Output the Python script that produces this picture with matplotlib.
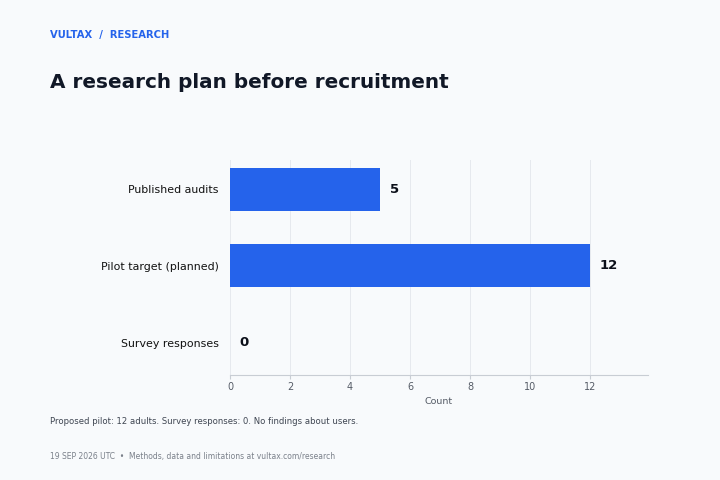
import matplotlib
matplotlib.use("Agg")
import matplotlib.pyplot as plt

categories = ["Published audits", "Pilot target (planned)", "Survey responses"]
counts = [5, 12, 0]

bg = "#f8fafc"
blue = "#2563eb"

fig = plt.figure(figsize=(7.2, 4.8), dpi=100, facecolor=bg)
ax = fig.add_axes([0.3194, 0.2188, 0.5806, 0.4479], facecolor=bg)

ypos = list(range(len(categories)))[::-1]
ax.barh(ypos, counts, height=0.56, color=blue, zorder=3)
for y, v in zip(ypos, counts):
    ax.annotate(str(v), (v, y), xytext=(7, 0), textcoords="offset points",
                va="center", ha="left", fontsize=9.5, fontweight="bold", color="#0b0f19")

ax.set_yticks(ypos)
ax.set_yticklabels(categories, fontsize=7.9, color="#111111")
ax.set_xlim(0, 13.93)
ax.set_ylim(-0.42, 2.38)
ax.set_xticks(range(0, 13, 2))
ax.tick_params(axis="x", labelsize=7, labelcolor="#555b66", color="#c8cdd4",
               length=3, width=0.8, pad=2)
ax.tick_params(axis="y", length=0, pad=8)
ax.set_xlabel("Count", fontsize=6.8, color="#555b66", labelpad=4)
ax.grid(axis="x", color="#e6e9ee", linewidth=0.7, zorder=0)
for s in ["top", "right", "left"]:
    ax.spines[s].set_visible(False)
ax.spines["bottom"].set_color("#c8cdd4")
ax.spines["bottom"].set_linewidth(0.8)

fig.text(50 / 720, 1 - 35 / 480, "VULTAX  /  RESEARCH", fontsize=7.2, fontweight="bold",
         color=blue, va="center", ha="left")
fig.text(50 / 720, 1 - 82 / 480, "A research plan before recruitment", fontsize=14.4,
         fontweight="bold", color="#111827", va="center", ha="left")
fig.text(50 / 720, 1 - 421 / 480,
         "Proposed pilot: 12 adults. Survey responses: 0. No findings about users.",
         fontsize=6.1, color="#3f4652", va="center", ha="left")
fig.text(50 / 720, 1 - 456 / 480,
         "19 SEP 2026 UTC  \u2022  Methods, data and limitations at vultax.com/research",
         fontsize=5.5, color="#7a808a", va="center", ha="left")

fig.savefig("out.png", dpi=100, facecolor=bg)
